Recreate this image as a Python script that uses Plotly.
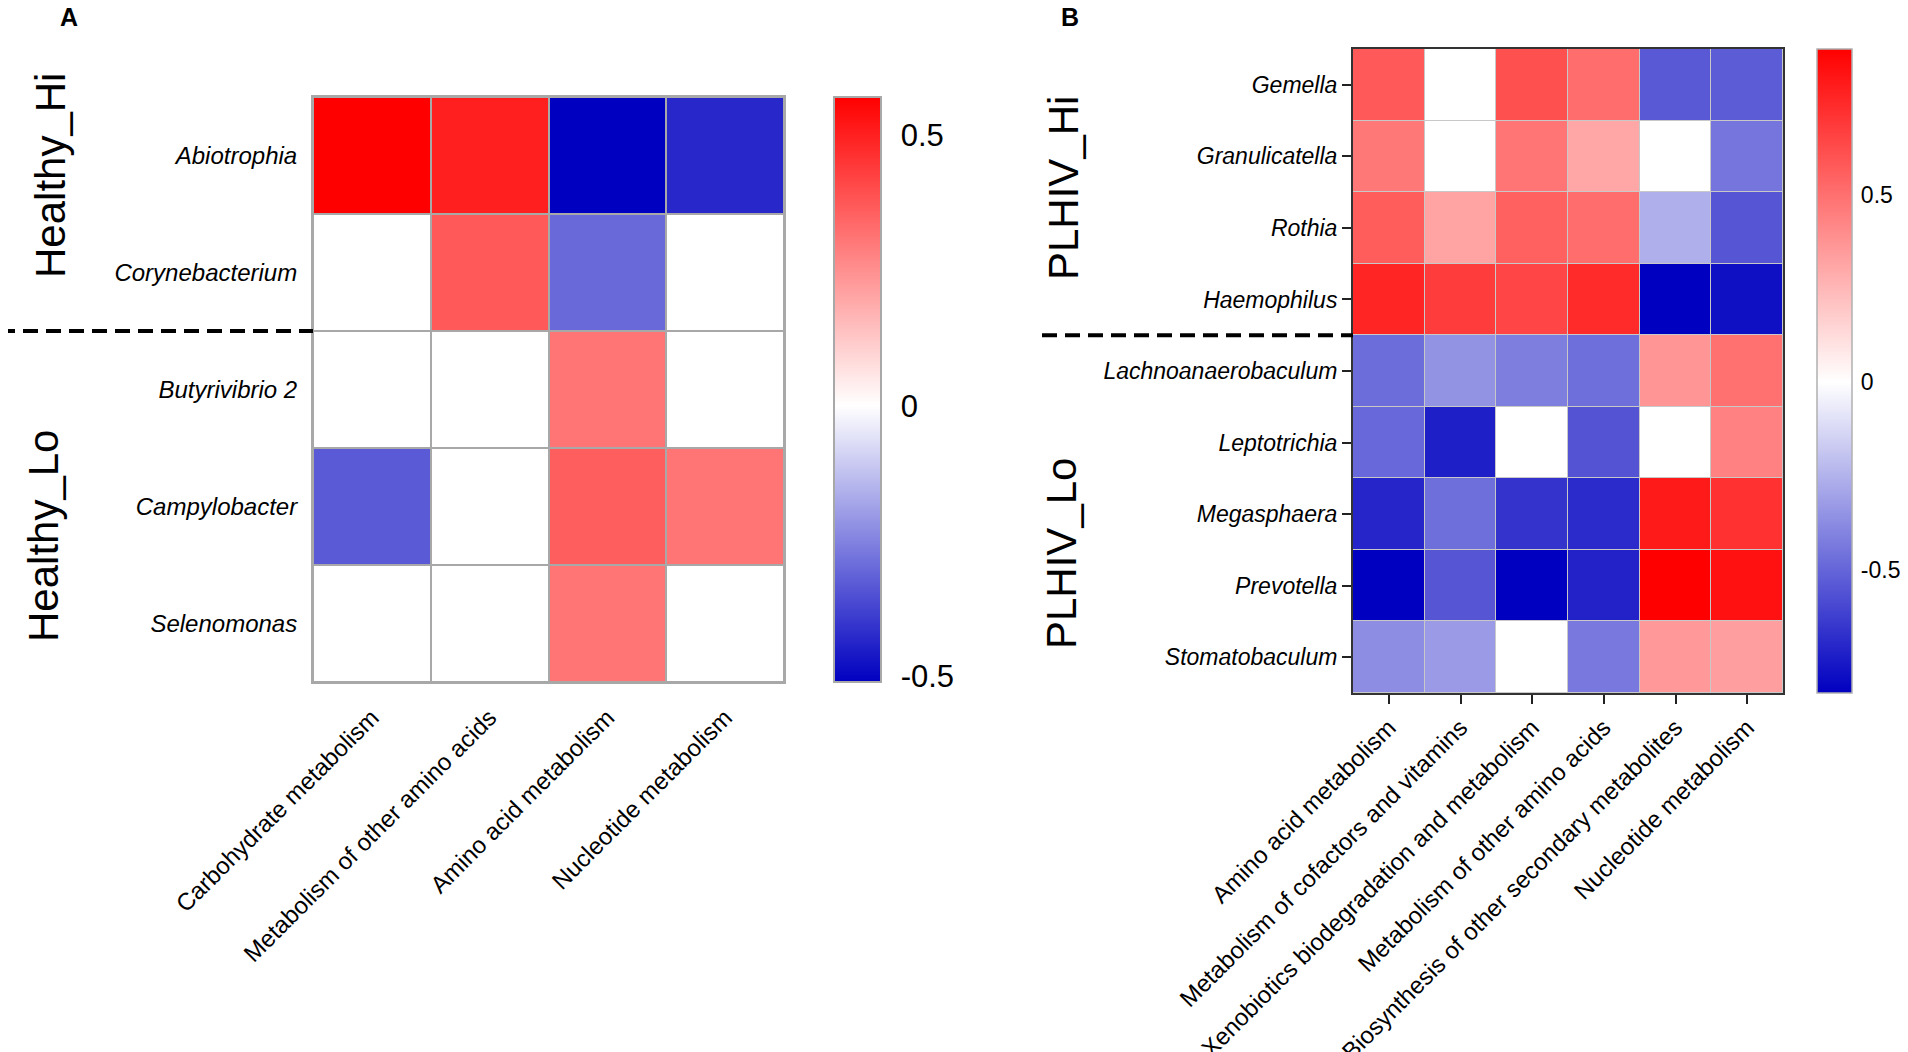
import plotly.graph_objects as go

# ---- Panel A data (Healthy) ----
healthy_genera = ['Abiotrophia', 'Corynebacterium', 'Butyrivibrio 2', 'Campylobacter', 'Selenomonas']
healthy_pathways = ['Carbohydrate metabolism', 'Metabolism of other amino acids',
                    'Amino acid metabolism', 'Nucleotide metabolism']
healthy_abiotrophia = [0.57, 0.50, -0.51, -0.43]
healthy_corynebacterium = [0.0, 0.37, -0.30, 0.0]
healthy_butyrivibrio = [0.0, 0.0, 0.31, 0.0]
healthy_campylobacter = [-0.33, 0.0, 0.36, 0.31]
healthy_selenomonas = [0.0, 0.0, 0.31, 0.0]

# ---- Panel B data (PLHIV) ----
plhiv_genera = ['Gemella', 'Granulicatella', 'Rothia', 'Haemophilus', 'Lachnoanaerobaculum',
                'Leptotrichia', 'Megasphaera', 'Prevotella', 'Stomatobaculum']
plhiv_pathways = ['Amino acid metabolism', 'Metabolism of cofactors and vitamins',
                  'Xenobiotics biodegradation and metabolism', 'Metabolism of other amino acids',
                  'Biosynthesis of other secondary metabolites', 'Nucleotide metabolism']
plhiv_gemella = [0.58, 0.0, 0.61, 0.51, -0.54, -0.53]
plhiv_granulicatella = [0.47, 0.0, 0.48, 0.31, 0.0, -0.45]
plhiv_rothia = [0.57, 0.32, 0.55, 0.51, -0.26, -0.55]
plhiv_haemophilus = [0.76, 0.68, 0.65, 0.74, -0.83, -0.78]
plhiv_lachnoanaerobaculum = [-0.48, -0.35, -0.42, -0.47, 0.37, 0.50]
plhiv_leptotrichia = [-0.49, -0.73, 0.0, -0.56, 0.0, 0.44]
plhiv_megasphaera = [-0.71, -0.47, -0.66, -0.69, 0.80, 0.72]
plhiv_prevotella = [-0.83, -0.55, -0.83, -0.72, 0.89, 0.83]
plhiv_stomatobaculum = [-0.37, -0.33, 0.0, -0.44, 0.36, 0.34]

# colour bar limits and ticks
healthy_zrange = [-0.51, 0.57]
plhiv_zrange = [-0.83, 0.89]
cbar_ticks = [-0.5, 0, 0.5]
cbar_ticktext = ['-0.5', '0', '0.5']

FONT = 'Liberation Sans, Arial, sans-serif'
# page body has an 8px margin, so the figure is a bit smaller than the window
OFF = 8
W, H = 1900, 1044


def diverging_scale(zmin, zmax):
    """Blue-white-red scale with white pinned at zero"""
    mid = -zmin / (zmax - zmin)
    return [[0, '#0000C0'], [mid, '#FFFFFF'], [1, '#FF0000']]


def px_x(p):
    # screen pixel -> paper fraction
    return (p - OFF) / W


def px_y(p):
    return 1 - (p - OFF) / H


def build_figure():
    fig = go.Figure()

    healthy_z = [healthy_abiotrophia, healthy_corynebacterium, healthy_butyrivibrio,
                 healthy_campylobacter, healthy_selenomonas]
    plhiv_z = [plhiv_gemella, plhiv_granulicatella, plhiv_rothia, plhiv_haemophilus,
               plhiv_lachnoanaerobaculum, plhiv_leptotrichia, plhiv_megasphaera,
               plhiv_prevotella, plhiv_stomatobaculum]

    # Panel A heatmap
    fig.add_trace(go.Heatmap(
        z=healthy_z, x=healthy_pathways, y=healthy_genera,
        zmin=healthy_zrange[0], zmax=healthy_zrange[1],
        colorscale=diverging_scale(*healthy_zrange),
        xgap=2, ygap=2, xaxis='x', yaxis='y',
        colorbar=dict(
            x=px_x(834), xanchor='left', y=px_y(682), yanchor='bottom',
            len=(682 - 97) / H, lenmode='fraction', thickness=47,
            xpad=0, ypad=0,
            outlinecolor='#A8A8A8', outlinewidth=2,
            tickvals=cbar_ticks, ticktext=cbar_ticktext,
            ticks='outside', ticklen=13, tickcolor='rgba(0,0,0,0)',
            tickfont=dict(size=31, color='black', family=FONT),
        ),
    ))

    # Panel B heatmap
    fig.add_trace(go.Heatmap(
        z=plhiv_z, x=plhiv_pathways, y=plhiv_genera,
        zmin=plhiv_zrange[0], zmax=plhiv_zrange[1],
        colorscale=diverging_scale(*plhiv_zrange),
        xgap=1, ygap=1, xaxis='x2', yaxis='y2',
        colorbar=dict(
            x=px_x(1817), xanchor='left', y=px_y(693), yanchor='bottom',
            len=(693 - 49) / H, lenmode='fraction', thickness=35,
            xpad=0, ypad=0,
            outlinecolor='#B0B0B0', outlinewidth=1.5,
            tickvals=cbar_ticks, ticktext=cbar_ticktext,
            ticks='outside', ticklen=4, tickcolor='rgba(0,0,0,0)',
            tickfont=dict(size=23, color='black', family=FONT),
        ),
    ))

    fig.update_layout(
        width=W, height=H,
        margin=dict(l=0, r=0, t=0, b=0, autoexpand=False),
        paper_bgcolor='white', plot_bgcolor='#A8A8A8',
        font=dict(family=FONT, color='black'),
        showlegend=False,
        xaxis=dict(domain=[px_x(313), px_x(784)], anchor='y', tickangle=-45,
                   ticks='', ticklabelstandoff=10, showline=True, mirror=True,
                   linecolor='#A8A8A8', linewidth=2, showgrid=False, zeroline=False,
                   automargin=False, tickfont=dict(size=24, family=FONT)),
        yaxis=dict(domain=[px_y(682), px_y(97)], anchor='x', autorange='reversed',
                   ticks='', ticklabelstandoff=9, showline=True, mirror=True,
                   linecolor='#A8A8A8', linewidth=2, showgrid=False, zeroline=False,
                   automargin=False, tickfont=dict(size=24, family=FONT, style='italic')),
        xaxis2=dict(domain=[px_x(1353), px_x(1783)], anchor='y2', tickangle=-45,
                    ticks='outside', ticklen=9, tickwidth=2, tickcolor='#222222',
                    showline=True, mirror=True, linecolor='#333333', linewidth=2,
                    showgrid=False, zeroline=False, automargin=False,
                    tickfont=dict(size=24, family=FONT)),
        yaxis2=dict(domain=[px_y(693), px_y(49)], anchor='x2', autorange='reversed',
                    ticks='outside', ticklen=9, tickwidth=2, tickcolor='#222222',
                    showline=True, mirror=True, linecolor='#333333', linewidth=2,
                    showgrid=False, zeroline=False, automargin=False,
                    tickfont=dict(size=23, family=FONT, style='italic')),
    )
    # lighter gaps in panel B: draw a rect behind panel B cells
    fig.add_shape(type='rect', xref='x2 domain', yref='y2 domain', x0=0, x1=1, y0=0, y1=1,
                  fillcolor='#C8C8C8', line_width=0, layer='below')

    # dashed separators between Hi and Lo groups
    fig.add_shape(type='line', xref='paper', yref='y', x0=px_x(0), x1=px_x(313), y0=1.5, y1=1.5,
                  line=dict(color='black', width=4, dash='15px,8px'))
    fig.add_shape(type='line', xref='paper', yref='y2', x0=px_x(1042), x1=px_x(1353),
                  y0=3.5, y1=3.5, line=dict(color='black', width=4, dash='15px,8px'))

    # group labels
    groups = [('Healthy_Hi', 50, 176), ('Healthy_Lo', 43, 536),
              ('PLHIV_Hi', 1063, 188), ('PLHIV_Lo', 1061, 554)]
    for text, gx, gy in groups:
        fig.add_annotation(text=text, x=px_x(gx), y=px_y(gy), xref='paper', yref='paper',
                           textangle=-90, showarrow=False, xanchor='center', yanchor='middle',
                           font=dict(size=42, family=FONT, color='black'))

    # panel letters
    for letter, lx in [('A', 69), ('B', 1070)]:
        fig.add_annotation(text='<b>%s</b>' % letter, x=px_x(lx), y=px_y(17), xref='paper',
                           yref='paper', showarrow=False, xanchor='center', yanchor='middle',
                           font=dict(size=25, family=FONT, color='black'))
    return fig


def main():
    fig = build_figure()
    fig.write_html('out.html', config={'displayModeBar': False})


if __name__ == '__main__':
    main()
